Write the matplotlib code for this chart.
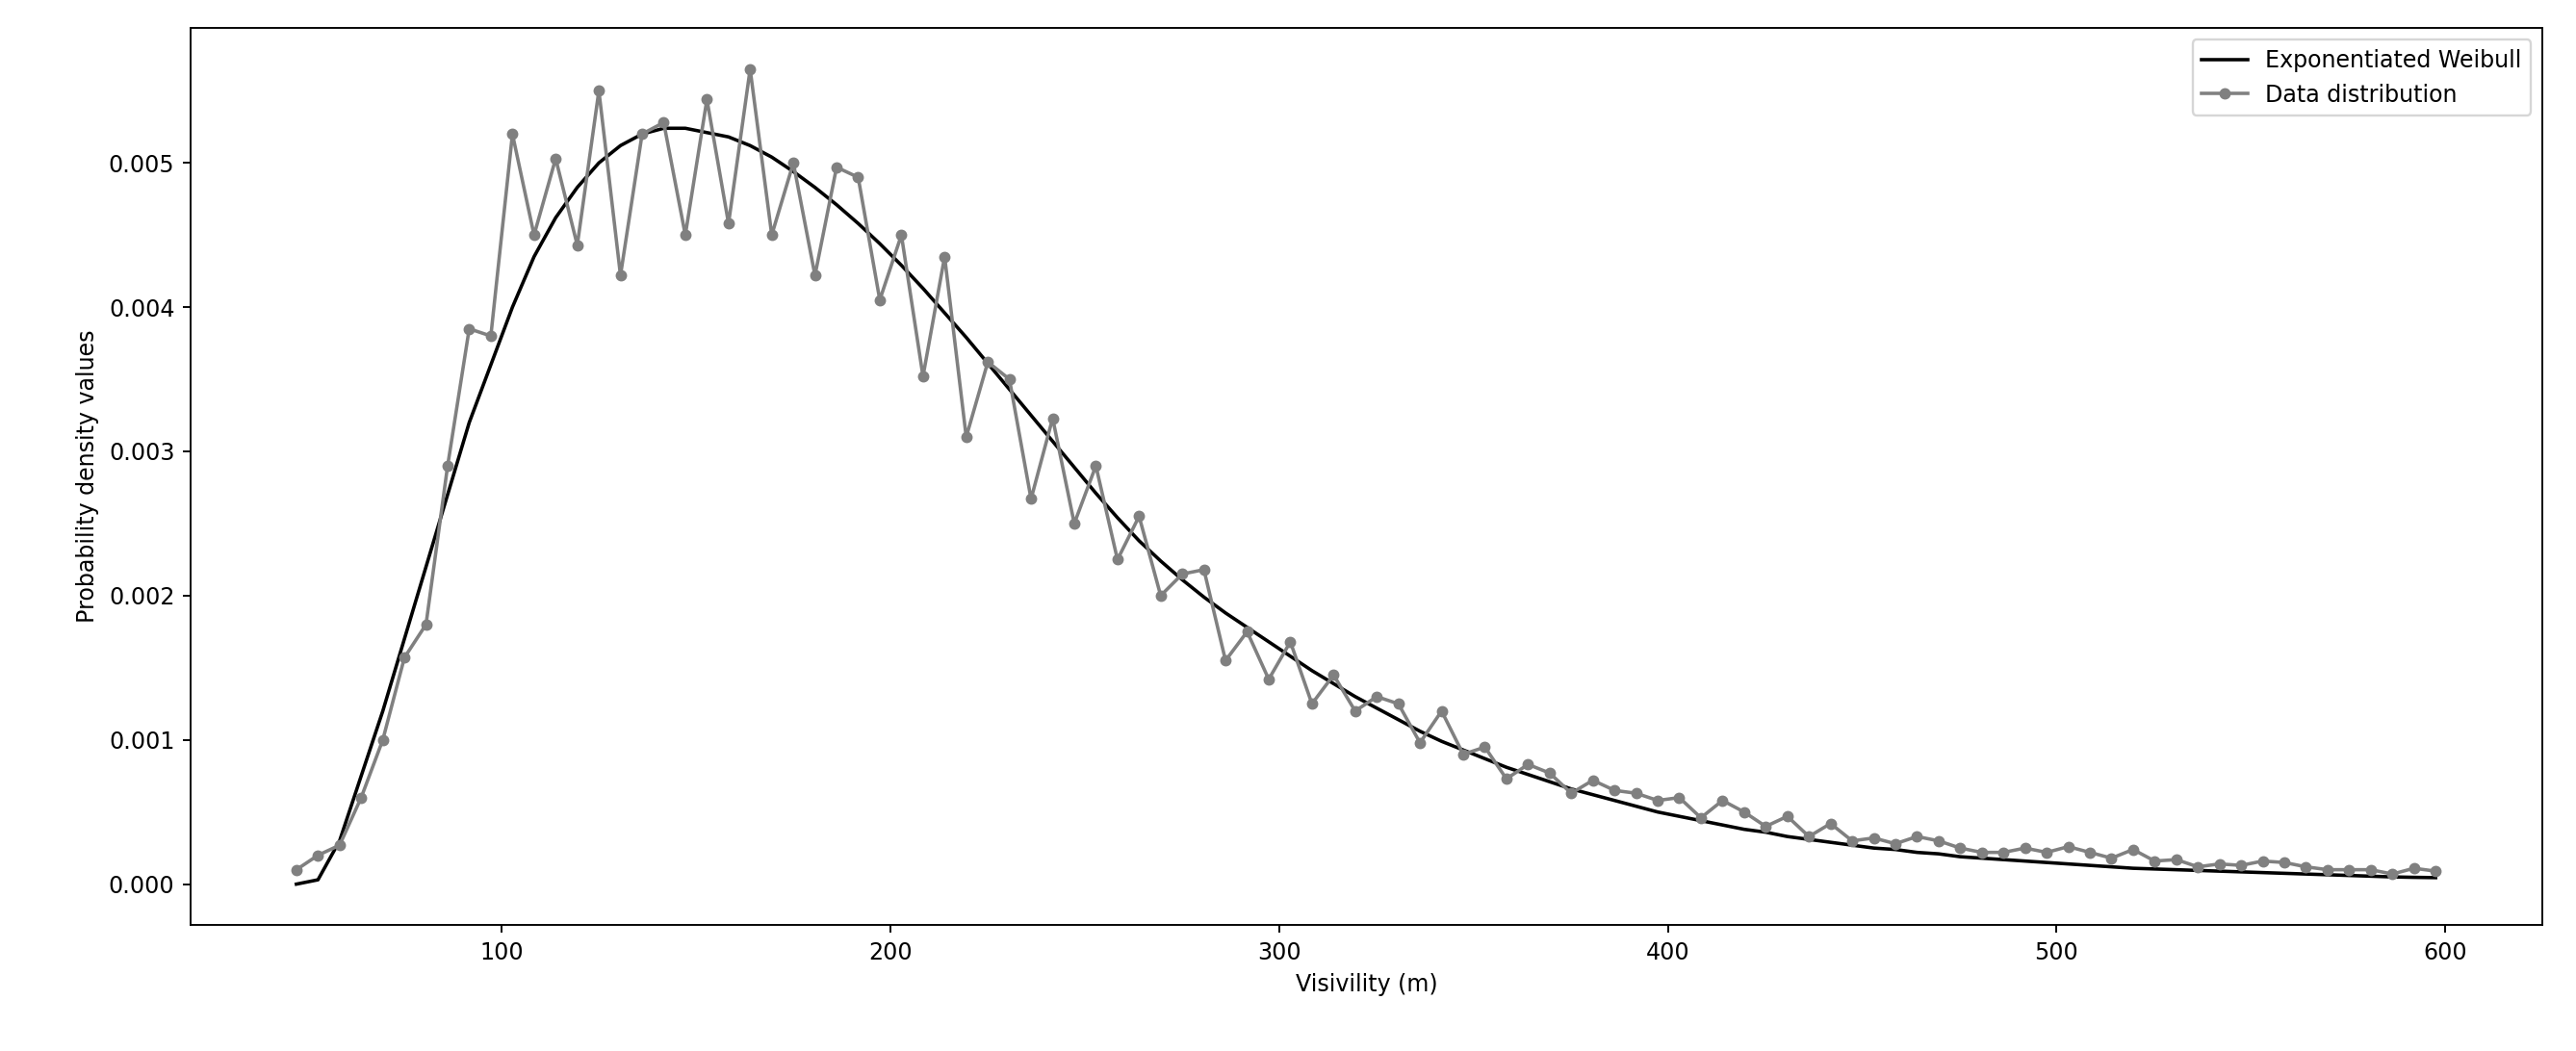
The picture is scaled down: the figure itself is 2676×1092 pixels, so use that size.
import numpy as np
import matplotlib
matplotlib.use("Agg")
import matplotlib.pyplot as plt

x_values = np.linspace(47.2, 597.5, 100)
data_density = [0.0001,0.0002,0.00027,0.0006,0.001,0.00157,0.0018,0.0029,0.00385,0.0038,
0.0052,0.0045,0.00503,0.00443,0.0055,0.00422,0.0052,0.00528,0.0045,0.00544,
0.00458,0.00565,0.0045,0.005,0.00422,0.00497,0.0049,0.00405,0.0045,0.00352,
0.00435,0.0031,0.00362,0.0035,0.00267,0.00323,0.0025,0.0029,0.00225,0.00255,
0.002,0.00215,0.00218,0.00155,0.00175,0.00142,0.00168,0.00125,0.00145,0.0012,
0.0013,0.00125,0.00098,0.0012,0.0009,0.00095,0.00073,0.00083,0.00077,0.00063,
0.00072,0.00065,0.00063,0.00058,0.0006,0.00046,0.00058,0.0005,0.0004,0.00047,
0.00033,0.00042,0.0003,0.00032,0.00028,0.00033,0.0003,0.00025,0.00022,0.00022,
0.00025,0.00022,0.00026,0.00022,0.00018,0.00024,0.00016,0.00017,0.00012,0.00014,
0.00013,0.00016,0.00015,0.00012,0.0001,0.0001,0.0001,0.00007,0.00011,0.00009]
weibull_density = [0.0,0.00003,0.0003,0.00075,0.0012,0.0017,0.0022,0.0027,0.0032,0.0036,
0.0040,0.00435,0.00462,0.00483,0.00500,0.00512,0.00520,0.00524,0.00524,0.00521,
0.00518,0.00512,0.00504,0.00494,0.00483,0.00471,0.00458,0.00444,0.00429,0.00413,
0.00396,0.00379,0.00361,0.00343,0.00325,0.00307,0.00289,0.00271,0.00254,0.00238,
0.00224,0.00211,0.00199,0.00188,0.00178,0.00168,0.00158,0.00148,0.00139,0.00130,
0.00122,0.00114,0.00106,0.00099,0.00093,0.00087,0.00081,0.00076,0.00071,0.00066,
0.00062,0.00058,0.00054,0.00050,0.00047,0.00044,0.00041,0.00038,0.00036,0.00033,
0.00031,0.00029,0.00027,0.00025,0.00024,0.00022,0.00021,0.00019,0.00018,0.00017,
0.00016,0.00015,0.00014,0.00013,0.00012,0.00011,0.000105,0.0001,0.000095,0.00009,
0.000085,0.00008,0.000075,0.00007,0.000065,0.00006,0.000055,0.00005,0.000047,0.000045]

fig = plt.figure(figsize=(2676/170.7, 1092/170.7), dpi=170.7)
ax = fig.add_axes([0.074, 0.12, 0.913, 0.853])
ax.plot(x_values, weibull_density, color='black', lw=1.5, label='Exponentiated Weibull')
ax.plot(x_values, data_density, color='gray', lw=1.5, marker='o', ms=4, label='Data distribution')
ax.set_xlim(20, 625)
ax.set_xlabel('Visivility (m)')
ax.set_ylabel('Probability density values')
ax.legend(loc='upper right')
fig.savefig('out.png', dpi=170.7)
